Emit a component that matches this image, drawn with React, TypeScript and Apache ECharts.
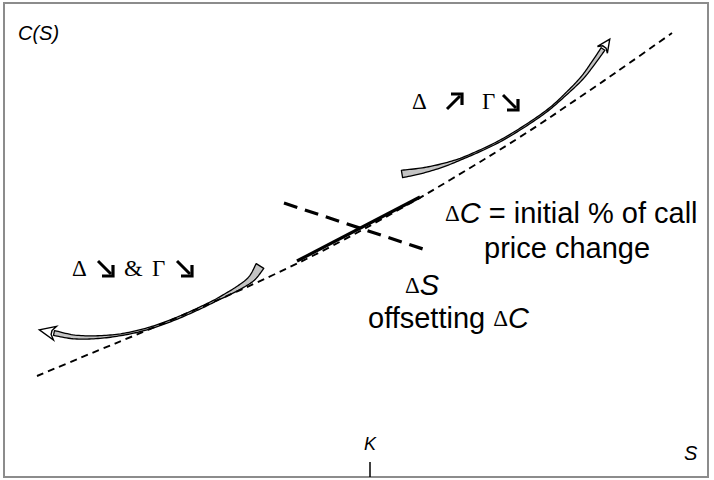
import React, { useEffect, useRef } from "react";
import * as echarts from "echarts";

// Call price curve C(S) (dashed)
const callS = [37, 80, 150, 220, 273, 330, 400, 450, 520, 580, 628, 672];
const callC = [104, 122, 151, 181, 205, 233, 271, 300, 343, 383, 416, 447];
// Initial tangent move (ΔC) - solid segment
const deltaCS = [297, 420];
const deltaCC = [219, 283];
// Offsetting ΔS - thick dashed segment
const deltaSS = [284, 429];
const deltaSC = [277, 229];
// Upper curved arrow (Δ up, Γ down)
const upperS = [402, 425, 450, 475, 500, 525, 548, 566, 582, 594, 603];
const upperC = [306, 310, 317, 327, 339, 354, 370, 386, 402, 418, 431];
// Lower curved arrow (Δ down & Γ down)
const lowerS = [54, 75, 100, 125, 150, 175, 200, 222, 240, 252, 260];
const lowerC = [147, 143, 143, 146, 152, 161, 172, 183, 193, 202, 214];
// Strike tick
const strikeK = 370;
const tickC = [3, 18];

const zip = (a: number[], b: number[]) => a.map((v, i) => [v, b[i]]);

function catmull(pts: number[][], seg = 12) {
  const out: number[][] = [];
  const n = pts.length;
  for (let i = 0; i < n - 1; i++) {
    const p0 = pts[Math.max(i - 1, 0)], p1 = pts[i], p2 = pts[i + 1], p3 = pts[Math.min(i + 2, n - 1)];
    for (let k = 0; k < seg; k++) {
      const t = k / seg, t2 = t * t, t3 = t2 * t;
      const f = (j: number) =>
        0.5 * (2 * p1[j] + (-p0[j] + p2[j]) * t + (2 * p0[j] - 5 * p1[j] + 4 * p2[j] - p3[j]) * t2 + (-p0[j] + 3 * p1[j] - 3 * p2[j] + p3[j]) * t3);
      out.push([f(0), f(1)]);
    }
  }
  out.push(pts[n - 1]);
  return out;
}

function widthAt(stops: number[][], t: number) {
  for (let i = 0; i < stops.length - 1; i++) {
    if (t >= stops[i][0] && t <= stops[i + 1][0]) {
      const u = (t - stops[i][0]) / (stops[i + 1][0] - stops[i][0] || 1);
      return stops[i][1] + (stops[i + 1][1] - stops[i][1]) * u;
    }
  }
  return stops[stops.length - 1][1];
}

function arrowRenderer(xs: number[], ys: number[], stops: number[][], headAtEnd: boolean, headLen: number, headHalf: number) {
  return (_params: any, api: any) => {
    const pts = xs.map((x, i) => api.coord([x, ys[i]]));
    const d = catmull(pts);
    const n = d.length;
    const L = [0];
    for (let i = 1; i < n; i++) L.push(L[i - 1] + Math.hypot(d[i][0] - d[i - 1][0], d[i][1] - d[i - 1][1]));
    const tot = L[n - 1];
    const left: number[][] = [], right: number[][] = [];
    for (let i = 0; i < n; i++) {
      const a = d[Math.max(i - 1, 0)], b = d[Math.min(i + 1, n - 1)];
      let tx = b[0] - a[0], ty = b[1] - a[1];
      const m = Math.hypot(tx, ty) || 1;
      tx /= m; ty /= m;
      const w = widthAt(stops, L[i] / tot) / 2;
      left.push([d[i][0] - ty * w, d[i][1] + tx * w]);
      right.push([d[i][0] + ty * w, d[i][1] - tx * w]);
    }
    const band = left.concat(right.reverse());
    const P = headAtEnd ? d[n - 1] : d[0];
    const Q = headAtEnd ? d[n - 4] : d[3];
    let dx = P[0] - Q[0], dy = P[1] - Q[1];
    const mm = Math.hypot(dx, dy) || 1;
    dx /= mm; dy /= mm;
    const nx = -dy, ny = dx;
    const head = [
      [P[0] + nx * headHalf - dx * 1, P[1] + ny * headHalf - dy * 1],
      [P[0] + dx * headLen, P[1] + dy * headLen],
      [P[0] - nx * headHalf - dx * 1, P[1] - ny * headHalf - dy * 1],
      [P[0] - nx * 2 + dx * 2.5, P[1] - ny * 2 + dy * 2.5],
      [P[0] + nx * 2 + dx * 2.5, P[1] + ny * 2 + dy * 2.5],
    ];
    return {
      type: "group",
      children: [
        { type: "polygon", shape: { points: band }, style: { fill: "#c4c4c4", stroke: "#000", lineWidth: 1.3, lineJoin: "round" } },
        { type: "polygon", shape: { points: head }, style: { fill: "#fff", stroke: "#000", lineWidth: 1.4, lineJoin: "miter" } },
      ],
    };
  };
}

const serif = "'Liberation Serif', 'DejaVu Serif', serif";
const sans = "'Liberation Sans', Arial, Helvetica, sans-serif";

function seArrow(x0: number, y0: number, s: number) {
  return [
    { type: "line", shape: { x1: x0 + 1, y1: y0 + 1, x2: x0 + s - 2, y2: y0 + s - 2 }, style: { stroke: "#000", lineWidth: 3 } },
    { type: "polyline", shape: { points: [[x0 + s, y0 + 5], [x0 + s, y0 + s], [x0 + 5, y0 + s]] }, style: { stroke: "#000", lineWidth: 3.2, fill: null, lineJoin: "miter" } },
  ];
}
function neArrow(x0: number, y0: number, s: number) {
  return [
    { type: "line", shape: { x1: x0 + 1, y1: y0 + s - 1, x2: x0 + s - 2, y2: y0 + 2 }, style: { stroke: "#000", lineWidth: 3 } },
    { type: "polyline", shape: { points: [[x0 + 5, y0], [x0 + s, y0], [x0 + s, y0 + s - 5]] }, style: { stroke: "#000", lineWidth: 3.2, fill: null, lineJoin: "miter" } },
  ];
}

function txt(x: number, y: number, text: string, fontSize: number, family: string, italic = false, rich?: any) {
  return {
    type: "text",
    x,
    y,
    style: {
      text,
      fontSize,
      fontFamily: family,
      fontStyle: italic ? "italic" : "normal",
      fill: "#000",
      verticalAlign: "middle",
      align: "left",
      rich,
    },
  };
}

const bigRich = {
  d: { fontFamily: serif, fontSize: 23, fill: "#000" },
  i: { fontFamily: sans, fontSize: 29, fontStyle: "italic", fill: "#000" },
};

export default function App() {
  const ref = useRef<HTMLDivElement>(null);
  useEffect(() => {
    document.body.style.margin = "0";
    if (!ref.current) return;
    const chart = echarts.init(ref.current, null, { renderer: "svg" });
    chart.setOption({
      animation: false,
      backgroundColor: "#fff",
      grid: { left: 4, top: 3, right: 6, bottom: 3, show: true, borderColor: "#8c8c8c", borderWidth: 2, backgroundColor: "#fff" },
      xAxis: { type: "value", min: 4, max: 708, show: false },
      yAxis: { type: "value", min: 3, max: 477, show: false },
      series: [
        {
          type: "line",
          data: zip(callS, callC),
          smooth: 0.4,
          symbol: "none",
          lineStyle: { color: "#000", width: 1.9, type: [7, 5] },
          markLine: {
            silent: true,
            symbol: "none",
            label: { show: false },
            lineStyle: { type: "solid", color: "#000", width: 1.5 },
            data: [[{ coord: [strikeK, tickC[0]] }, { coord: [strikeK, tickC[1]] }]],
          },
        },
        {
          type: "line",
          data: zip(deltaCS, deltaCC),
          symbol: "none",
          lineStyle: { color: "#000", width: 3.2 },
        },
        {
          type: "line",
          data: zip(deltaSS, deltaSC),
          symbol: "none",
          lineStyle: { color: "#000", width: 3.2, type: [14, 8] },
        },
        {
          type: "custom",
          data: [[upperS[0], upperC[0]]],
          renderItem: arrowRenderer(upperS, upperC, [[0, 7.5], [0.1, 5], [0.25, 1.6], [0.72, 1.6], [0.9, 3.5], [1, 4.5]], true, 12, 6),
        },
        {
          type: "custom",
          data: [[lowerS[0], lowerC[0]]],
          renderItem: arrowRenderer(lowerS, lowerC, [[0, 5], [0.12, 3.5], [0.3, 1.8], [0.75, 2], [0.9, 5], [1, 9]], false, 15, 7),
        },
      ],
      graphic: [
        txt(18, 33, "C(S)", 20, sans, true),
        txt(684, 453, "S", 20, sans, true),
        txt(364, 444, "K", 18, sans, true),
        txt(412, 101, "Δ", 23, serif),
        ...neArrow(446, 94, 16),
        txt(482, 101, "Γ", 23, serif),
        ...seArrow(502, 94, 16),
        txt(72, 268, "Δ", 23, serif),
        ...seArrow(97, 260, 16),
        txt(124, 268, "&", 24, serif),
        txt(152, 268, "Γ", 23, serif),
        ...seArrow(176, 260, 16),
        txt(445, 213, "{d|Δ}{i|C} = initial % of call", 29, sans, false, bigRich),
        txt(484, 248, "price change", 29, sans),
        txt(405, 285, "{d|Δ}{i|S}", 29, sans, false, bigRich),
        txt(368, 318, "offsetting {d|Δ}{i|C}", 29, sans, false, bigRich),
      ],
    });
    return () => chart.dispose();
  }, []);
  return <div ref={ref} style={{ width: 714, height: 480 }} />;
}
